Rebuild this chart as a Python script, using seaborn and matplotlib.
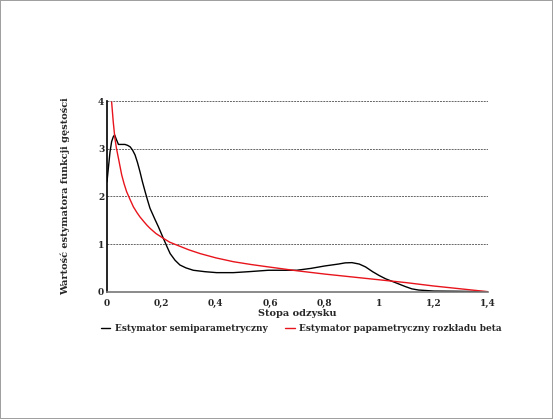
import pandas as pd
import matplotlib.pyplot as plt
import seaborn as sns

# values
semi_x = [0.0, 0.006, 0.011, 0.017, 0.023, 0.028, 0.034, 0.042, 0.055, 0.066, 0.076, 0.085,
          0.094, 0.103, 0.112, 0.121, 0.13, 0.14, 0.149, 0.158, 0.176, 0.189, 0.207, 0.22,
          0.232, 0.25, 0.268, 0.29, 0.317, 0.36, 0.403, 0.464, 0.52, 0.593, 0.65, 0.697,
          0.75, 0.8, 0.85, 0.875, 0.9, 0.927, 0.95, 0.976, 1.0, 1.024, 1.06, 1.097, 1.12, 1.145,
          1.2, 1.28, 1.34, 1.4]
semi_y = [2.31, 2.65, 2.93, 3.15, 3.25, 3.29, 3.2, 3.09, 3.09, 3.09, 3.07, 3.04,
          2.97, 2.87, 2.71, 2.52, 2.31, 2.10, 1.92, 1.75, 1.52, 1.36, 1.12, 0.95,
          0.80, 0.66, 0.56, 0.50, 0.45, 0.42, 0.40, 0.40, 0.42, 0.45, 0.45, 0.45,
          0.49, 0.54, 0.58, 0.605, 0.61, 0.58, 0.52, 0.42, 0.34, 0.27, 0.19, 0.106, 0.06, 0.035,
          0.014, 0.01, 0.005, 0.0]

beta_x = [0.017, 0.023, 0.029, 0.035, 0.042, 0.054, 0.063, 0.072, 0.085, 0.097, 0.11, 0.121,
          0.134, 0.146, 0.158, 0.18, 0.207, 0.23, 0.256, 0.3, 0.342, 0.4, 0.464, 0.53,
          0.593, 0.697, 0.8, 0.9, 1.0, 1.1, 1.2, 1.3, 1.4]
beta_y = [3.98, 3.56, 3.22, 3.0, 2.80, 2.45, 2.26, 2.10, 1.93, 1.78, 1.66, 1.57,
          1.48, 1.40, 1.33, 1.22, 1.12, 1.04, 0.98, 0.88, 0.80, 0.71, 0.63, 0.57,
          0.52, 0.44, 0.37, 0.31, 0.25, 0.19, 0.12, 0.06, 0.0]

x_ticks = [0, 0.2, 0.4, 0.6, 0.8, 1.0, 1.2, 1.4]
x_tick_labels = ["0", "0,2", "0,4", "0,6", "0,8", "1", "1,2", "1,4"]
y_ticks = [0, 1, 2, 3, 4]

label_semi = "Estymator semiparametryczny"
label_beta = "Estymator papametryczny rozkładu beta"

df = pd.concat([
    pd.DataFrame({"x": semi_x, "y": semi_y, "seria": label_semi}),
    pd.DataFrame({"x": beta_x, "y": beta_y, "seria": label_beta}),
])

sns.set_style("white")
plt.rcParams['font.family'] = ['DejaVu Serif']
plt.rcParams['font.weight'] = 'bold'

fig = plt.figure(figsize=(5.53, 4.19), dpi=100, edgecolor='#a0a0a0', linewidth=1.2)
ax = fig.add_axes([0.1935, 0.3038, 0.689, 0.455])

for yv in y_ticks[1:]:
    ax.axhline(yv, color='#666666', lw=0.7, ls=(0, (2, 1)), zorder=0)

sns.lineplot(data=df, x="x", y="y", hue="seria", sort=False, estimator=None,
             palette={label_semi: "black", label_beta: "#e8141c"},
             linewidth=1.0, ax=ax, legend=False)

ax.set_xlim(0, 1.4)
ax.set_ylim(0, 4)
ax.set_xticks(x_ticks)
ax.set_xticklabels(x_tick_labels)
ax.set_yticks(y_ticks)
ax.tick_params(labelsize=6.5, length=3, width=0.8, direction='out', pad=2)
ax.tick_params(axis='y', length=0)
for s in ['top', 'right']:
    ax.spines[s].set_visible(False)
ax.spines['left'].set_color('black')
ax.spines['left'].set_linewidth(1.2)
ax.spines['bottom'].set_color('#777777')
ax.spines['bottom'].set_linewidth(1.2)

ax.set_xlabel("Stopa odzysku", fontsize=7, fontweight='bold', labelpad=1)
ax.set_ylabel("Wartość estymatora funkcji gęstości", fontsize=7, fontweight='bold', labelpad=20)

handles = [plt.Line2D([], [], color='black', lw=1.0),
           plt.Line2D([], [], color='#e8141c', lw=1.0)]
fig.legend(handles, [label_semi, label_beta], loc='center', bbox_to_anchor=(0.545, 0.215),
           ncol=2, frameon=False, handlelength=1.0, handletextpad=0.5,
           columnspacing=2.0, prop={'weight': 'bold', 'size': 6.5})

fig.savefig("out.png", dpi=100, edgecolor=fig.get_edgecolor())
